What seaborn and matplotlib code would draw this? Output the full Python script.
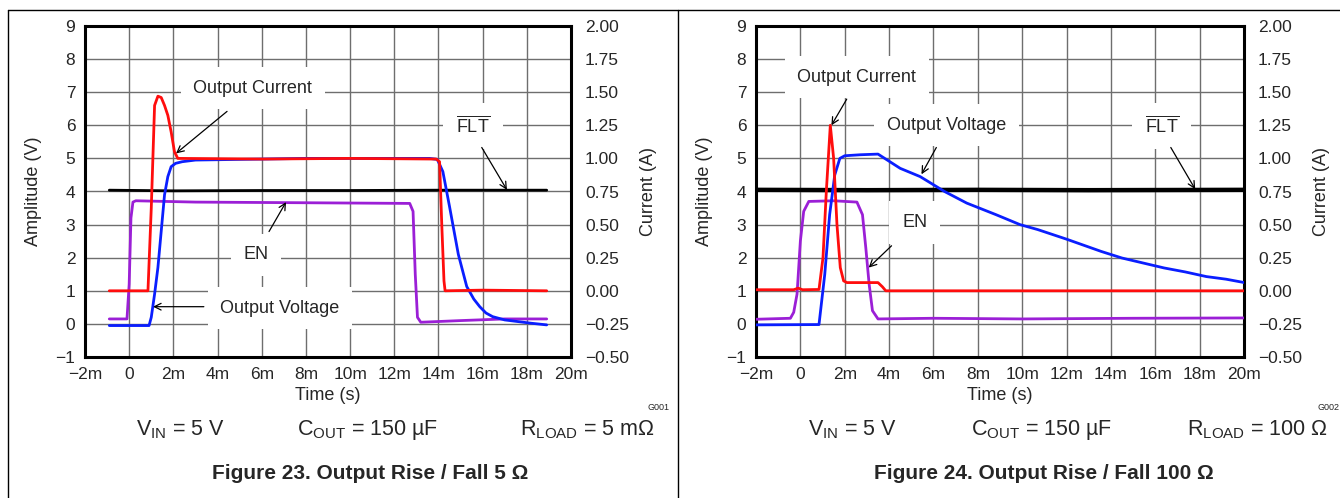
import numpy as np
import matplotlib
matplotlib.use("Agg")
import matplotlib.pyplot as plt
from matplotlib.lines import Line2D
import seaborn as sns

sns.set_style('white')
plt.rcParams['font.family'] = ['Liberation Sans', 'DejaVu Sans']
plt.rcParams['mathtext.fontset'] = 'custom'
plt.rcParams['mathtext.rm'] = 'Liberation Sans'
plt.rcParams['mathtext.it'] = 'Liberation Sans:italic'
plt.rcParams['mathtext.bf'] = 'Liberation Sans:bold'

# axis ticks (time in ms)
x_ticks = list(range(-2, 21, 2))
x_labels = ['\u22122m', '0'] + [f'{t}m' for t in range(2, 21, 2)]
v_ticks = list(range(-1, 10))
v_labels = ['\u22121'] + [str(v) for v in range(0, 10)]
i_ticks = [-0.5, -0.25, 0.0, 0.25, 0.5, 0.75, 1.0, 1.25, 1.5, 1.75, 2.0]
i_labels = ['\u22120.50', '\u22120.25', '0.00', '0.25', '0.50', '0.75',
            '1.00', '1.25', '1.50', '1.75', '2.00']

# ---- Figure 23, 5 ohm load ----
a_cur_t = [-0.9, 0.85, 1.0, 1.15, 1.3, 1.45, 1.6, 1.75, 1.9, 2.05, 2.2, 6.0, 10.0,
           13.9, 14.05, 14.15, 14.25, 14.3, 16.0, 18.9]
a_cur_a = [0.0, 0.0, 0.625, 1.40, 1.47, 1.46, 1.40, 1.325, 1.20, 1.05, 1.0, 0.995, 1.0,
           0.995, 0.975, 0.5, 0.075, 0.0, 0.005, 0.0]
a_vout_t = [-0.9, 0.9, 1.0, 1.15, 1.3, 1.45, 1.6, 1.75, 1.9, 2.1, 2.4, 3.0, 8.0, 13.6,
            13.95, 14.2, 14.5, 14.9, 15.28, 15.6, 15.87, 16.15, 16.45, 17.0, 17.6,
            18.2, 18.9]
a_vout_v = [-0.05, -0.05, 0.2, 0.9, 1.7, 2.8, 3.9, 4.45, 4.75, 4.85, 4.9, 4.95, 5.0, 5.0,
            4.97, 4.6, 3.55, 2.1, 1.13, 0.75, 0.52, 0.33, 0.22, 0.12, 0.07, 0.02, -0.03]
a_en_t = [-0.9, -0.1, 0.0, 0.08, 0.17, 0.3, 3.0, 8.0, 12.7, 12.85, 12.95, 13.05, 13.2,
          15.0, 17.0, 18.9]
a_en_v = [0.15, 0.15, 1.2, 3.2, 3.68, 3.72, 3.68, 3.66, 3.64, 3.4, 1.5, 0.2, 0.05,
          0.1, 0.15, 0.15]
a_flt_t = [-0.9, 2.0, 6.0, 10.0, 14.0, 18.9]
a_flt_v = [4.04, 4.02, 4.03, 4.03, 4.04, 4.04]

# ---- Figure 24, 100 ohm load ----
b_cur_t = [-2.0, -0.3, -0.1, 0.1, 0.84, 1.02, 1.17, 1.35, 1.5, 1.65, 1.8, 1.95,
           2.1, 3.5, 3.7, 3.85, 8.0, 14.0, 20.0]
b_cur_a = [0.008, 0.008, 0.02, 0.008, 0.01, 0.25, 0.75, 1.25, 1.0, 0.5, 0.175, 0.075,
           0.062, 0.062, 0.03, 0.0, 0.0, 0.0, 0.0]
b_vout_t = [-2.0, 0.84, 1.1, 1.32, 1.55, 1.78, 2.0, 2.7, 3.5, 4.5, 5.4, 6.5, 7.5,
            8.82, 9.9, 10.7, 12.0, 13.56, 14.5, 15.45, 16.4, 17.35, 18.3, 19.2, 20.0]
b_vout_v = [-0.03, -0.02, 1.5, 3.3, 4.5, 5.0, 5.08, 5.11, 5.13, 4.7, 4.45, 4.0, 3.65,
            3.3, 3.0, 2.85, 2.56, 2.19, 1.99, 1.84, 1.69, 1.57, 1.43, 1.35, 1.25]
b_en_t = [-2.0, -0.45, -0.3, -0.15, 0.0, 0.15, 0.38, 1.5, 2.55, 2.8, 2.95, 3.1, 3.25,
          3.5, 6.0, 10.0, 15.0, 20.0]
b_en_v = [0.14, 0.17, 0.35, 0.9, 2.5, 3.4, 3.7, 3.72, 3.68, 3.3, 2.3, 1.2, 0.4,
          0.15, 0.17, 0.15, 0.17, 0.18]
b_flt_t = [-2.0, 3.0, 8.0, 13.0, 20.0]
b_flt_v = [4.05, 4.04, 4.05, 4.04, 4.05]

W, H = 1340, 498
fig = plt.figure(figsize=(W / 100, H / 100), dpi=100)
FS = 13


def setup(ax):
    ax.set_xlim(-2, 20)
    ax.set_ylim(-1, 9)
    ax.set_xticks(x_ticks)
    ax.set_xticklabels(x_labels)
    ax.set_yticks(v_ticks)
    ax.set_yticklabels(v_labels)
    ax.grid(True, color='#6e6e6e', lw=1.0)
    ax.set_axisbelow(True)
    ax.tick_params(length=0, labelsize=12.5, pad=7)
    for s in ax.spines.values():
        s.set_linewidth(2.2)
        s.set_color('black')
    ax2 = ax.twinx()
    ax2.set_ylim(-0.5, 2.0)
    ax2.set_yticks(i_ticks)
    ax2.set_yticklabels(i_labels)
    ax2.tick_params(length=0, labelsize=12.5, pad=10)
    for s in ax2.spines.values():
        s.set_visible(False)
    return ax2


def label(ax, x, y, txt):
    ax.text(x, y, txt, fontsize=FS, ha='center', va='center', zorder=3,
            bbox=dict(boxstyle='square,pad=0.7', facecolor='white', edgecolor='none'))


def arrow(ax, start, end):
    ax.annotate('', xy=end, xytext=start, zorder=6,
                arrowprops=dict(arrowstyle='->', color='black', lw=0.9,
                                shrinkA=0, shrinkB=0, mutation_scale=12))


def traces(ax, ax2, vt, vv, et, ev, ft, fv, ct, ca, flt_lw):
    sns.lineplot(x=ft, y=fv, ax=ax, color='black', lw=flt_lw, estimator=None, sort=False, zorder=4)
    sns.lineplot(x=et, y=ev, ax=ax, color='#9b1fd6', lw=2.0, estimator=None, sort=False, zorder=4)
    sns.lineplot(x=vt, y=vv, ax=ax, color='#0a1eff', lw=2.0, estimator=None, sort=False, zorder=5)
    sns.lineplot(x=ct, y=ca, ax=ax2, color='#ff0d0d', lw=2.0, estimator=None, sort=False)
    ax.set_xlim(-2, 20)
    ax.set_ylim(-1, 9)
    ax2.set_ylim(-0.5, 2.0)
    ax.set_xlabel('Time (s)', fontsize=FS, labelpad=4)
    ax.set_ylabel('Amplitude (V)', fontsize=FS, labelpad=10)
    ax2.set_ylabel('Current (A)', fontsize=FS, labelpad=8)


flt_txt = r'$\overline{\mathrm{FLT}}$'

# left panel
axA = fig.add_axes([85 / W, 1 - 357 / H, 486 / W, 331 / H])
axA2 = setup(axA)
traces(axA, axA2, a_vout_t, a_vout_v, a_en_t, a_en_v, a_flt_t, a_flt_v,
       a_cur_t, a_cur_a, 2.0)
label(axA, 5.6, 7.12, 'Output Current')
arrow(axA, (4.43, 6.42), (2.12, 5.15))
label(axA, 15.56, 5.97, flt_txt)
arrow(axA, (15.96, 5.33), (17.1, 4.05))
label(axA, 5.74, 2.09, 'EN')
arrow(axA, (6.33, 2.79), (7.1, 3.68))
label(axA, 6.82, 0.48, 'Output Voltage')
arrow(axA, (3.38, 0.52), (1.08, 0.52))

# right panel
axB = fig.add_axes([756 / W, 1 - 357 / H, 488 / W, 331 / H])
axB2 = setup(axB)
traces(axB, axB2, b_vout_t, b_vout_v, b_en_t, b_en_v, b_flt_t, b_flt_v,
       b_cur_t, b_cur_a, 3.2)
label(axB, 2.54, 7.45, 'Output Current')
arrow(axB, (2.09, 6.79), (1.4, 6.0))
label(axB, 6.58, 6.0, 'Output Voltage')
arrow(axB, (6.13, 5.33), (5.46, 4.52))
label(axB, 16.29, 5.97, flt_txt)
arrow(axB, (16.7, 5.33), (17.8, 4.07))
label(axB, 5.15, 3.06, 'EN')
arrow(axB, (4.11, 2.36), (3.08, 1.7))

# conditions and captions
conds = [
    (180, r'V$_{\mathrm{IN}}$ = 5 V'), (368, r'C$_{\mathrm{OUT}}$ = 150 µF'),
    (587, r'R$_{\mathrm{LOAD}}$ = 5 mΩ'),
    (852, r'V$_{\mathrm{IN}}$ = 5 V'), (1042, r'C$_{\mathrm{OUT}}$ = 150 µF'),
    (1257, r'R$_{\mathrm{LOAD}}$ = 100 Ω'),
]
for x, t in conds:
    fig.text(x / W, 1 - 430 / H, t, fontsize=15.5, ha='center', va='center')
fig.text(658 / W, 1 - 407 / H, 'G001', fontsize=6.5, ha='center', va='center')
fig.text(1318 / W, 1 - 407 / H, 'G002', fontsize=6.5, ha='left', va='center')
fig.text(370 / W, 1 - 473 / H, 'Figure 23. Output Rise / Fall 5 Ω', fontsize=15,
         fontweight='bold', ha='center', va='center')
fig.text(1044 / W, 1 - 473 / H, 'Figure 24. Output Rise / Fall 100 Ω', fontsize=15,
         fontweight='bold', ha='center', va='center')

# page frame lines
fig.add_artist(Line2D([8 / W, 8 / W], [0, 1 - 10 / H], color='black', lw=1.0))
fig.add_artist(Line2D([8 / W, 1], [1 - 10 / H, 1 - 10 / H], color='black', lw=1.0))
fig.add_artist(Line2D([678 / W, 678 / W], [0, 1 - 10 / H], color='black', lw=1.0))

fig.savefig('out.png', dpi=100)
